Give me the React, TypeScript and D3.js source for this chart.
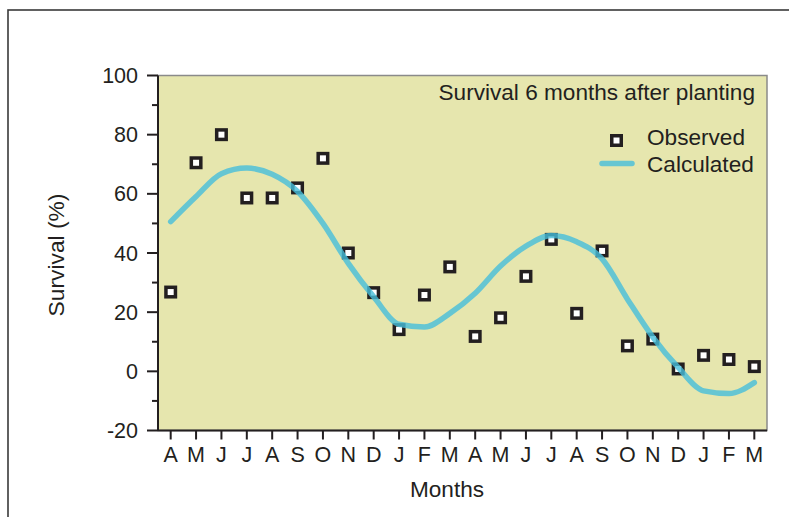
import React from "react";
import * as d3 from "d3";

const months = ["A","M","J","J","A","S","O","N","D","J","F","M","A","M","J","J","A","S","O","N","D","J","F","M"];
const observed = [26.8,70.5,80,58.6,58.6,62,72,40,26.6,14.1,25.8,35.3,11.8,18.1,32.1,44.6,19.6,40.7,8.6,10.9,0.8,5.4,4.0,1.6];
const calculated = [50.6,59.1,66.8,68.7,66.6,60.8,50,36.5,25.2,15.9,15.0,19.6,26.4,35.6,42.3,45.9,43.8,38.0,24.4,11.6,1.3,-6.6,-7.5,-3.8];
const majorTicks = [-20,0,20,40,60,80,100];
const minorTicks = [-10,10,30,50,70,90];

const W = 789, H = 517;
const L = 158, R = 767, T = 75.5, B = 430.5;
const font = "'Liberation Sans', Arial, Helvetica, sans-serif";
const ink = "#231f20";
const curveColor = "rgb(70,190,219)";

export default function App() {
  const idx = months.map((_, i) => String(i));
  const x = d3.scalePoint<string>().domain(idx).range([L, R]).padding(0.5);
  const y = d3.scaleLinear().domain([-20, 100]).range([B, T]);
  const line = d3.line<number>()
    .x((_, i) => x(String(i))!)
    .y(d => y(d))
    .curve(d3.curveMonotoneX);
  const ms = 9.5;

  return (
    <svg width={W} height={H} style={{ position: "absolute", left: 0, top: 0, background: "#fff" }} fontFamily={font}>
      {/* outer frame */}
      <rect x={8} y={10} width={W} height={H} fill="none" stroke="#3a3a3a" strokeWidth={1.6} />

      {/* plot panel */}
      <rect x={L} y={T} width={R - L} height={B - T} fill="#e6e6ae" stroke="#8a8a8a" strokeWidth={1.5} />
      <line x1={L} x2={L} y1={T} y2={B} stroke={ink} strokeWidth={2} />
      <line x1={L} x2={R} y1={B} y2={B} stroke={ink} strokeWidth={2} />

      {/* y axis */}
      {majorTicks.map(t => (
        <g key={"M" + t}>
          <line x1={L - 11} x2={L} y1={y(t)} y2={y(t)} stroke={ink} strokeWidth={2} />
          <text x={138} y={y(t) + 7.5} textAnchor="end" fontSize={21.5} fill={ink}>{t}</text>
        </g>
      ))}
      {minorTicks.map(t => (
        <line key={"m" + t} x1={L - 6} x2={L} y1={y(t)} y2={y(t)} stroke={ink} strokeWidth={2} />
      ))}
      <text transform={`translate(64,255) rotate(-90)`} textAnchor="middle" fontSize={22.8} fill={ink}>Survival (%)</text>

      {/* x axis */}
      {months.map((m, i) => (
        <g key={"x" + i}>
          <line x1={x(String(i))} x2={x(String(i))} y1={B} y2={B + 9} stroke={ink} strokeWidth={2} />
          <text x={x(String(i))} y={462} textAnchor="middle" fontSize={21.5} fill={ink}>{m}</text>
        </g>
      ))}
      <text x={447} y={497} textAnchor="middle" fontSize={22.6} fill={ink}>Months</text>

      {/* observed points */}
      {observed.map((v, i) => (
        <rect key={"o" + i} x={x(String(i))! - ms / 2} y={y(v) - ms / 2} width={ms} height={ms}
          fill="#fff" stroke={ink} strokeWidth={3.5} />
      ))}

      {/* calculated curve */}
      <path d={line(calculated)!} fill="none" stroke={curveColor} strokeOpacity={0.8}
        strokeWidth={5.5} strokeLinecap="round" strokeLinejoin="round" />

      {/* title and legend */}
      <text x={755} y={100} textAnchor="end" fontSize={22.6} fill={ink}>Survival 6 months after planting</text>
      <rect x={616.5 - ms / 2} y={140.5 - ms / 2} width={ms} height={ms} fill="#fff" stroke={ink} strokeWidth={3.5} />
      <text x={647} y={145} fontSize={22.6} fill={ink}>Observed</text>
      <line x1={602} x2={632} y1={163.5} y2={163.5} stroke={curveColor} strokeOpacity={0.8} strokeWidth={5.5} strokeLinecap="round" />
      <text x={647} y={172} fontSize={22.6} fill={ink}>Calculated</text>
    </svg>
  );
}
